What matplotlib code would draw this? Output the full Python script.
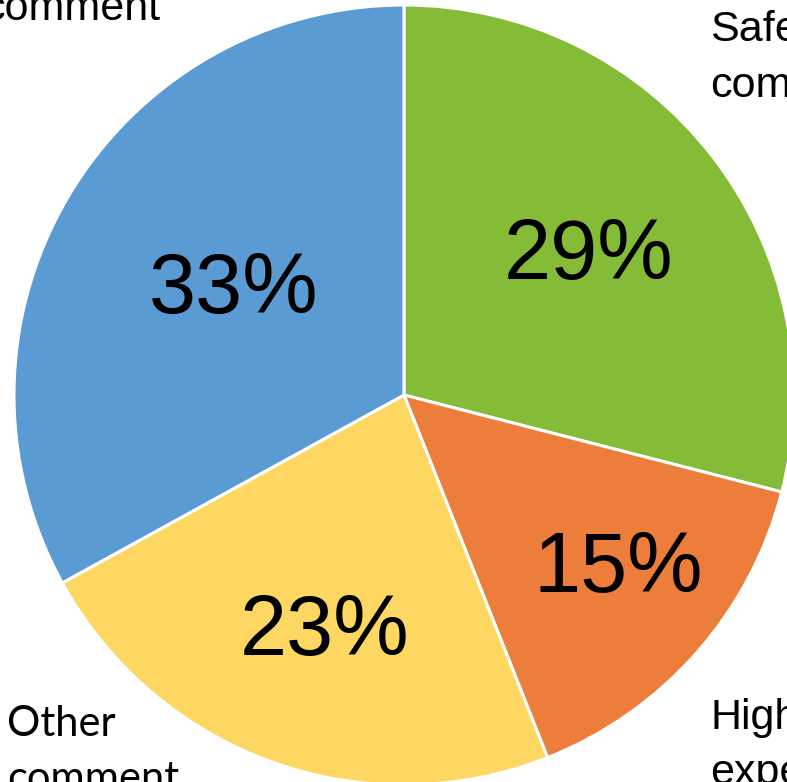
import numpy as np
import matplotlib.pyplot as plt

labels = ["Safety\ncomment", "High\nexpectation", "Other\ncomment", "Positive\ncomment"]
shares = [29, 15, 23, 33]
colors = ["#85BC37", "#EC7D3A", "#FED762", "#5B9BD3"]
# how far out each percentage sits, as a fraction of the radius
pct_radius = [0.60, 0.70, 0.63, 0.52]
# small angular nudges (degrees) for the percentage labels
pct_shift = [0, 3, 1, -2]

W, H = 787, 782
fig = plt.figure(figsize=(W / 100, H / 100), dpi=100)
ax = fig.add_axes([0, 0, 1, 1])
ax.axis("off")

cx, cy, r = 404, H - 395, 390
wedges, _ = ax.pie(shares, colors=colors, startangle=90, counterclock=False,
                   center=(cx, cy), radius=r,
                   wedgeprops=dict(edgecolor="white", linewidth=2.2))
ax.set_xlim(0, W)
ax.set_ylim(0, H)
ax.set_aspect("equal")

# percentage labels near the middle angle of each wedge
for w, val, fr, sh in zip(wedges, shares, pct_radius, pct_shift):
    mid = np.deg2rad((w.theta1 + w.theta2) / 2 + sh)
    ax.text(cx + fr * r * np.cos(mid), cy + fr * r * np.sin(mid) - 5, f"{val}%",
            ha="center", va="center", fontsize=61, family="Liberation Sans",
            color="black")

# category labels around the pie (anchored on the last line's baseline)
ax.text(710, H - 97, labels[0], ha="left", va="baseline", fontsize=31,
        family="Liberation Sans", linespacing=1.5)
ax.text(710, H - 784, labels[1], ha="left", va="baseline", fontsize=31,
        family="Liberation Sans", linespacing=1.5)
ax.text(7, H - 791, labels[2], ha="left", va="baseline", fontsize=30,
        family="Lato", linespacing=1.55)
ax.text(160, H - 20, labels[3], ha="right", va="baseline", fontsize=31,
        family="Liberation Sans", linespacing=1.5)

fig.savefig("out.png", dpi=100)
